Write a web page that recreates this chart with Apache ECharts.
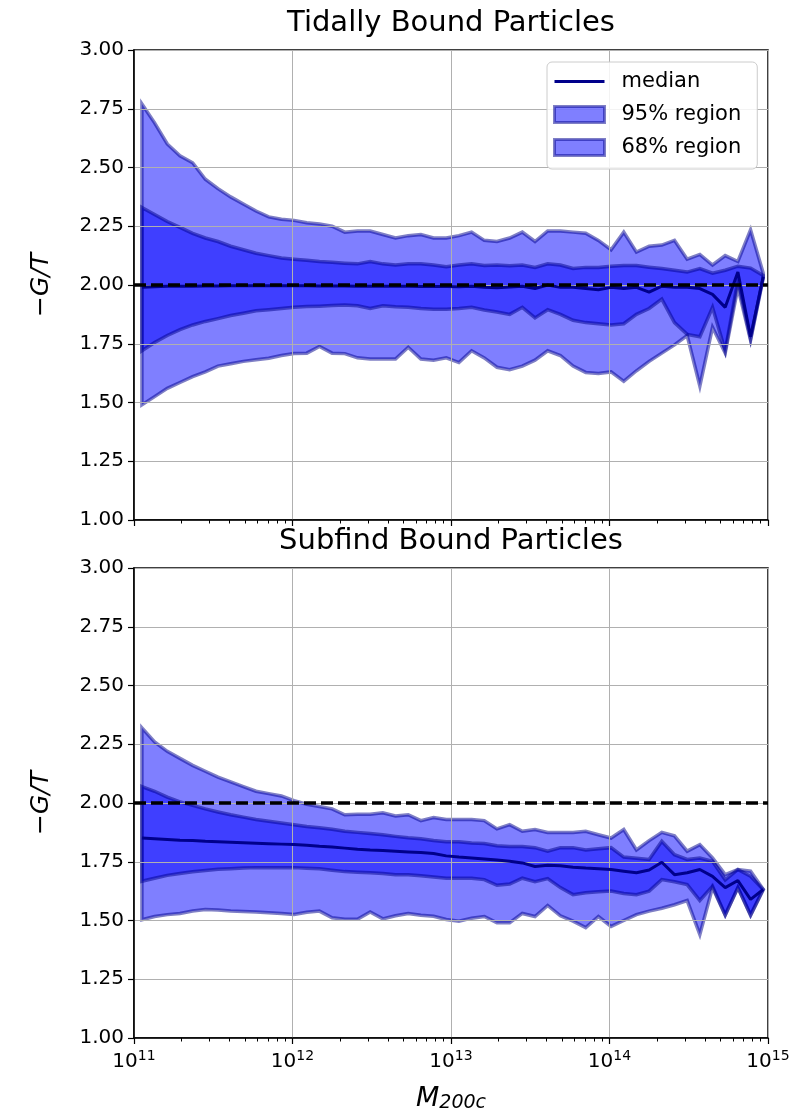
<!DOCTYPE html>
<html>
<head>
<meta charset="utf-8">
<script src="https://cdn.jsdelivr.net/npm/echarts@6/dist/echarts.min.js"></script>
<style>
html,body{margin:0;padding:0;background:#ffffff;}
#chart{width:796px;height:1119px;}
</style>
</head>
<body>
<div id="chart"></div>
<script>
// ---------- data ----------
const logMass = [
  11.05, 11.13, 11.21, 11.29, 11.37, 11.45, 11.53, 11.61, 11.69, 11.77,
  11.85, 11.93, 12.01, 12.09, 12.17, 12.25, 12.33, 12.41, 12.49, 12.57,
  12.65, 12.73, 12.81, 12.89, 12.97, 13.05, 13.13, 13.21, 13.29, 13.37,
  13.45, 13.53, 13.61, 13.69, 13.77, 13.85, 13.93, 14.01, 14.09, 14.17,
  14.25, 14.33, 14.41, 14.49, 14.57, 14.65, 14.73, 14.81, 14.89, 14.97
];

// Top panel: Tidally Bound Particles
const tidalHi95 = [
  2.77, 2.69, 2.60, 2.55, 2.52, 2.45, 2.41, 2.375, 2.345, 2.315,
  2.29, 2.28, 2.275, 2.265, 2.26, 2.25, 2.225, 2.23, 2.23, 2.215,
  2.20, 2.21, 2.215, 2.20, 2.20, 2.21, 2.225, 2.19, 2.185, 2.20,
  2.225, 2.185, 2.23, 2.23, 2.225, 2.22, 2.19, 2.15, 2.225, 2.14,
  2.165, 2.17, 2.19, 2.11, 2.13, 2.085, 2.125, 2.10, 2.235, 2.05
];
const tidalHi68 = [
  2.33, 2.30, 2.27, 2.245, 2.22, 2.20, 2.185, 2.165, 2.15, 2.135,
  2.125, 2.115, 2.11, 2.105, 2.10, 2.097, 2.093, 2.09, 2.10, 2.09,
  2.085, 2.09, 2.09, 2.085, 2.078, 2.085, 2.09, 2.083, 2.085, 2.082,
  2.085, 2.075, 2.09, 2.085, 2.07, 2.075, 2.075, 2.08, 2.083, 2.083,
  2.076, 2.07, 2.063, 2.055, 2.07, 2.05, 2.063, 2.08, 2.072, 2.04
];
const tidalMedian = [
  1.99, 1.993, 1.995, 1.995, 1.995, 1.996, 1.996, 1.997, 1.997, 1.997,
  1.997, 1.997, 1.997, 1.997, 1.996, 1.996, 1.996, 1.995, 1.995, 1.995,
  1.995, 1.995, 1.994, 1.994, 1.994, 1.993, 1.995, 1.99, 1.988, 1.992,
  1.995, 1.985, 2.0, 1.99, 1.99, 1.985, 1.98, 1.99, 1.985, 1.99,
  1.97, 1.995, 1.99, 1.99, 1.985, 1.96, 1.905, 2.055, 1.78, 2.035
];
const tidalLo68 = [
  1.72, 1.755, 1.785, 1.81, 1.83, 1.845, 1.857, 1.87, 1.88, 1.89,
  1.895, 1.90, 1.905, 1.908, 1.91, 1.913, 1.915, 1.912, 1.90, 1.912,
  1.907, 1.905, 1.90, 1.897, 1.897, 1.90, 1.905, 1.894, 1.885, 1.875,
  1.905, 1.86, 1.895, 1.875, 1.85, 1.84, 1.835, 1.83, 1.835, 1.875,
  1.90, 1.94, 1.84, 1.79, 1.78, 1.905, 1.72, 2.02, 1.77, 2.035
];
const tidalLo95 = [
  1.49, 1.525, 1.56, 1.585, 1.61, 1.63, 1.655, 1.665, 1.675, 1.682,
  1.688, 1.70, 1.708, 1.71, 1.738, 1.71, 1.708, 1.69, 1.685, 1.685,
  1.685, 1.735, 1.685, 1.68, 1.69, 1.67, 1.72, 1.69, 1.65, 1.64,
  1.655, 1.68, 1.72, 1.70, 1.655, 1.628, 1.623, 1.63, 1.59, 1.635,
  1.675, 1.71, 1.745, 1.785, 1.57, 1.82, 1.71, 1.99, 1.765, 2.03
];

// Bottom panel: Subfind Bound Particles
const subfindHi95 = [
  2.32, 2.26, 2.22, 2.19, 2.16, 2.135, 2.11, 2.09, 2.07, 2.05,
  2.04, 2.03, 2.01, 1.995, 1.985, 1.975, 1.95, 1.952, 1.952, 1.958,
  1.945, 1.95, 1.925, 1.938, 1.93, 1.93, 1.93, 1.925, 1.89, 1.908,
  1.88, 1.887, 1.875, 1.875, 1.875, 1.88, 1.865, 1.851, 1.887, 1.80,
  1.84, 1.875, 1.86, 1.795, 1.823, 1.766, 1.695, 1.717, 1.71, 1.632
];
const subfindHi68 = [
  2.07, 2.05, 2.025, 2.005, 1.99, 1.975, 1.962, 1.95, 1.94, 1.93,
  1.922, 1.915, 1.907, 1.90, 1.895, 1.888, 1.88, 1.875, 1.87, 1.865,
  1.858, 1.852, 1.848, 1.84, 1.835, 1.835, 1.83, 1.828, 1.818, 1.815,
  1.815, 1.81, 1.795, 1.81, 1.81, 1.80, 1.805, 1.81, 1.77, 1.765,
  1.76, 1.837, 1.78, 1.76, 1.766, 1.752, 1.673, 1.717, 1.688, 1.632
];
const subfindMedian = [
  1.851, 1.848, 1.845, 1.842, 1.84, 1.837, 1.835, 1.833, 1.831, 1.829,
  1.827, 1.825, 1.823, 1.82, 1.816, 1.813, 1.808, 1.803, 1.80, 1.798,
  1.795, 1.792, 1.789, 1.785, 1.775, 1.77, 1.766, 1.762, 1.757, 1.752,
  1.745, 1.73, 1.735, 1.733, 1.727, 1.723, 1.72, 1.717, 1.71, 1.703,
  1.715, 1.748, 1.695, 1.703, 1.717, 1.688, 1.64, 1.67, 1.59, 1.632
];
const subfindLo68 = [
  1.667, 1.68, 1.692, 1.70, 1.707, 1.713, 1.718, 1.72, 1.723, 1.725,
  1.725, 1.725, 1.725, 1.722, 1.72, 1.714, 1.708, 1.705, 1.703, 1.70,
  1.695, 1.695, 1.69, 1.685, 1.68, 1.68, 1.68, 1.674, 1.65, 1.655,
  1.68, 1.665, 1.678, 1.64, 1.61, 1.618, 1.622, 1.625, 1.615, 1.61,
  1.625, 1.674, 1.665, 1.653, 1.585, 1.646, 1.523, 1.64, 1.523, 1.632
];
const subfindLo95 = [
  1.503, 1.517, 1.525, 1.53, 1.54, 1.547, 1.545, 1.54, 1.538, 1.536,
  1.533, 1.53, 1.526, 1.535, 1.54, 1.512, 1.505, 1.505, 1.536, 1.507,
  1.52, 1.53, 1.522, 1.518, 1.504, 1.497, 1.51, 1.517, 1.49, 1.49,
  1.53, 1.517, 1.564, 1.52, 1.497, 1.47, 1.517, 1.475, 1.50, 1.525,
  1.54, 1.552, 1.567, 1.585, 1.44, 1.64, 1.523, 1.64, 1.523, 1.632
];

const referenceLevel = [2.0, 2.0];
const xRangeExp = [11, 15];
const yTickLabels = ['1.00','1.25','1.50','1.75','2.00','2.25','2.50','2.75','3.00'];
const panelTitles = ['Tidally Bound Particles', 'Subfind Bound Particles'];
const legendNames = ['median', '95% region', '68% region'];

// ---------- derived ----------
const mass = logMass.map(v => Math.pow(10, v));
const xMin = Math.pow(10, xRangeExp[0]);
const xMax = Math.pow(10, xRangeExp[1]);
// minor log ticks (2..9 x 10^n) in log10 units for the helper axis
const minorTicks = [];
for (let d = xRangeExp[0]; d < xRangeExp[1]; d++) {
  for (let k = 2; k <= 9; k++) minorTicks.push(d + Math.log10(k));
}

const FONT = 'DejaVu Sans';
const GRID_LEFT = 134, GRID_W = 634, GRID_H = 470;
const tops = [50, 568];

const FILL = 'rgba(0,0,255,0.5)';
const EDGE = 'rgba(0,0,139,0.5)';
const MEDIAN_COLOR = '#00008b';

function bandSeries(p, name, lo, hi) {
  return {
    type: 'custom',
    name: name,
    coordinateSystem: 'cartesian2d',
    xAxisIndex: p * 2,
    yAxisIndex: p,
    z: 1,
    silent: true,
    itemStyle: { color: FILL, borderColor: EDGE, borderWidth: 3 },
    data: [[mass[0], lo[0]]],
    renderItem: function (params, api) {
      const pts = [];
      for (let i = 0; i < mass.length; i++) pts.push(api.coord([mass[i], hi[i]]));
      for (let i = mass.length - 1; i >= 0; i--) pts.push(api.coord([mass[i], lo[i]]));
      return {
        type: 'polygon',
        shape: { points: pts },
        style: { fill: FILL, stroke: EDGE, lineWidth: 3.5, lineJoin: 'miter' }
      };
    }
  };
}

function medianSeries(p, med) {
  return {
    type: 'line', name: 'median',
    xAxisIndex: p * 2, yAxisIndex: p, z: 3, silent: true,
    symbol: 'none', smooth: false,
    lineStyle: { color: MEDIAN_COLOR, width: 3 },
    itemStyle: { color: MEDIAN_COLOR },
    data: mass.map((m, i) => [m, med[i]])
  };
}

function refSeries(p) {
  return {
    type: 'line', name: 'reference',
    xAxisIndex: p * 2, yAxisIndex: p, z: 4, silent: true,
    symbol: 'none',
    lineStyle: { color: '#000000', width: 3.5, type: [12, 5] },
    data: [[xMin, referenceLevel[0]], [xMax, referenceLevel[1]]]
  };
}

const grids = tops.map(t => ({
  left: GRID_LEFT, top: t, width: GRID_W, height: GRID_H,
  show: true, borderColor: '#000', borderWidth: 1.5, backgroundColor: 'transparent'
}));

const xAxes = [];
const yAxes = [];
[0, 1].forEach(p => {
  xAxes.push({
    type: 'log', logBase: 10, gridIndex: p, min: xMin, max: xMax, z: 2,
    position: 'bottom',
    axisLine: { show: true, lineStyle: { color: '#000', width: 1.5 } },
    axisTick: { show: true, length: 6, lineStyle: { color: '#000', width: 1.2 } },
    splitLine: { show: true, lineStyle: { color: '#b0b0b0', width: 1 } },
    minorTick: { show: false },
    axisLabel: {
      show: p === 1, margin: 11, color: '#000',
      formatter: v => '{b|10}{s|' + Math.round(Math.log10(v)) + '}',
      rich: {
        b: { fontFamily: FONT, fontSize: 20, color: '#000' },
        s: { fontFamily: FONT, fontSize: 14, color: '#000', padding: [0, 0, 12, 0] }
      }
    },
    name: p === 1 ? '{m|M}{sub|200c}' : '',
    nameLocation: 'middle', nameGap: 46,
    nameTextStyle: {
      rich: {
        m: { fontFamily: FONT, fontStyle: 'italic', fontSize: 27, color: '#000' },
        sub: { fontFamily: FONT, fontStyle: 'italic', fontSize: 19, color: '#000', padding: [10, 0, 0, 0] }
      }
    }
  });
  // helper axis carrying the minor log ticks (placed on the bottom edge)
  xAxes.push({
    type: 'value', gridIndex: p, min: xRangeExp[0], max: xRangeExp[1], z: 2,
    position: 'top', offset: -GRID_H,
    axisLine: { show: false },
    axisTick: { show: true, inside: true, length: 3.5, customValues: minorTicks, lineStyle: { color: '#000', width: 1 } },
    axisLabel: { show: false },
    splitLine: { show: false }
  });
  yAxes.push({
    type: 'value', gridIndex: p, min: 1, max: 3, interval: 0.25, z: 2,
    axisLine: { show: true, lineStyle: { color: '#000', width: 1.5 } },
    axisTick: { show: true, length: 6, lineStyle: { color: '#000', width: 1.2 } },
    splitLine: { show: true, lineStyle: { color: '#b0b0b0', width: 1 } },
    axisLabel: {
      margin: 10, color: '#000', fontFamily: FONT, fontSize: 20,
      formatter: (v) => yTickLabels[Math.round((v - 1) / 0.25)]
    },
    name: '\u2212G/T', nameLocation: 'middle', nameGap: 80, nameRotate: 90,
    nameTextStyle: { fontFamily: FONT, fontStyle: 'italic', fontSize: 25, color: '#000' }
  });
});

const series = [
  bandSeries(0, '95% region', tidalLo95, tidalHi95),
  bandSeries(0, '68% region', tidalLo68, tidalHi68),
  medianSeries(0, tidalMedian),
  refSeries(0),
  bandSeries(1, '95% region', subfindLo95, subfindHi95),
  bandSeries(1, '68% region', subfindLo68, subfindHi68),
  medianSeries(1, subfindMedian),
  refSeries(1)
];

const option = {
  animation: false,
  backgroundColor: '#ffffff',
  textStyle: { fontFamily: FONT },
  grid: grids,
  xAxis: xAxes,
  yAxis: yAxes,
  series: series,
  legend: {
    orient: 'vertical', left: 547, top: 62, z: 20,
    itemWidth: 50, itemHeight: 16, itemGap: 12,
    padding: [9, 16, 11, 6],
    backgroundColor: 'rgba(255,255,255,0.85)',
    borderColor: '#cccccc', borderWidth: 1, borderRadius: 5,
    selectedMode: false,
    symbolKeepAspect: true,
    textStyle: { fontFamily: FONT, fontSize: 21, lineHeight: 21, color: '#000', padding: [0, 0, 0, 12] },
    data: [
      { name: legendNames[0], icon: 'path://M0,0L50,0L50,3L0,3Z', itemStyle: { color: MEDIAN_COLOR, borderWidth: 0 } },
      { name: legendNames[1], icon: 'rect', itemStyle: { color: FILL, borderColor: EDGE, borderWidth: 3 } },
      { name: legendNames[2], icon: 'rect', itemStyle: { color: FILL, borderColor: EDGE, borderWidth: 3 } }
    ]
  },
  graphic: panelTitles.map((t, p) => ({
    type: 'text', x: GRID_LEFT + GRID_W / 2, y: tops[p] - 27, z: 20,
    style: { text: t, fontFamily: FONT, fontSize: 29, fill: '#000', textAlign: 'center', textVerticalAlign: 'middle' }
  }))
};

const chart = echarts.init(document.getElementById('chart'), null, { renderer: 'canvas', width: 796, height: 1119 });
chart.setOption(option);
</script>
</body>
</html>
